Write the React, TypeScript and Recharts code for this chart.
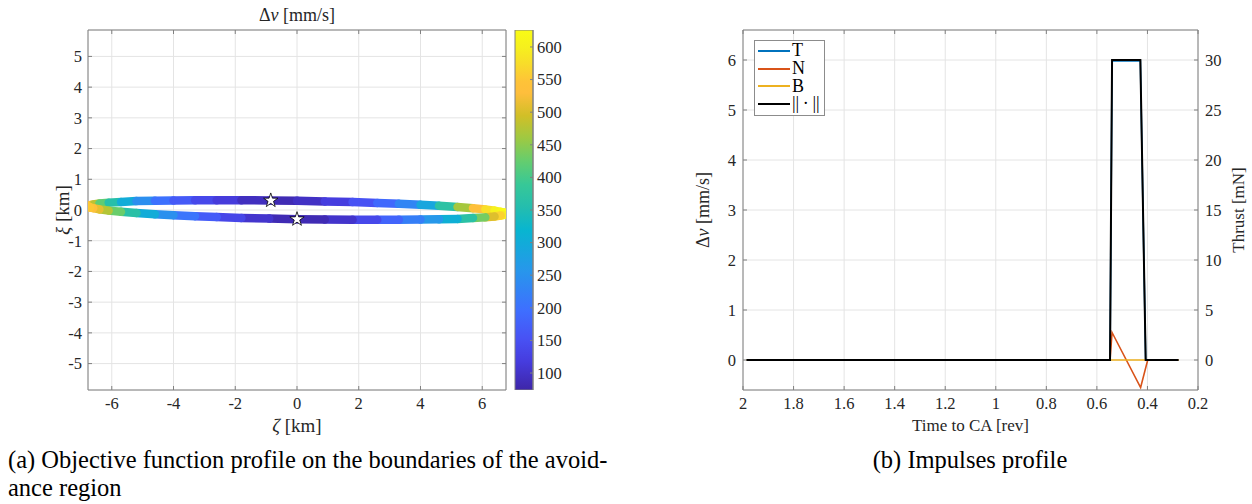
import React from "react";
import {
  Bar,
  BarChart,
  CartesianGrid,
  Legend,
  Line,
  LineChart,
  Scatter,
  ScatterChart,
  XAxis,
  YAxis,
  ZAxis,
} from "recharts";

const FONT = "'Liberation Serif', 'Times New Roman', serif";
const INK = "#262626";
const BOX = "#808080";
const GRID = "#e4e4e4";

// ---- (a) avoidance region boundary ----
const zetaTicks = [-6, -4, -2, 0, 2, 4, 6];
const xiTicks = [-5, -4, -3, -2, -1, 0, 1, 2, 3, 4, 5];

const upperZeta = [-6.75, -6.7, -6.6, -6.4, -6.1, -5.7, -5.2, -4.6, -4.0, -3.3, -2.6, -1.8, -0.9, 0, 0.9, 1.8, 2.6, 3.3, 4.0, 4.6, 5.2, 5.7, 6.1, 6.4, 6.6, 6.7, 6.75];
const upperXi = [0.12, 0.16, 0.18, 0.21, 0.24, 0.26, 0.29, 0.3, 0.31, 0.32, 0.32, 0.32, 0.31, 0.3, 0.28, 0.26, 0.23, 0.2, 0.17, 0.14, 0.1, 0.06, 0.02, -0.02, -0.06, -0.08, -0.12];
const upperDv = [560, 545, 510, 450, 390, 330, 270, 220, 180, 150, 125, 105, 80, 88, 105, 135, 170, 205, 255, 320, 420, 510, 560, 595, 612, 620, 626];

const lowerZeta = [6.75, 6.7, 6.6, 6.4, 6.1, 5.7, 5.2, 4.6, 4.0, 3.3, 2.6, 1.8, 0.9, 0, -0.9, -1.8, -2.6, -3.3, -4.0, -4.6, -5.2, -5.7, -6.1, -6.4, -6.6, -6.7, -6.75];
const lowerXi = [-0.12, -0.16, -0.18, -0.21, -0.24, -0.26, -0.29, -0.3, -0.31, -0.32, -0.32, -0.32, -0.31, -0.3, -0.28, -0.26, -0.23, -0.2, -0.17, -0.14, -0.1, -0.06, -0.02, 0.02, 0.06, 0.08, 0.12];
const lowerDv = [626, 610, 585, 540, 470, 400, 335, 280, 240, 200, 160, 115, 90, 78, 90, 118, 150, 185, 225, 270, 330, 400, 455, 495, 525, 545, 560];

const starZeta = [-0.85, 0];
const starXi = [0.31, -0.3];

const dvMin = 74;
const dvMax = 626;
const dvTicks = [100, 150, 200, 250, 300, 350, 400, 450, 500, 550, 600];

// ---- (b) impulses ----
const timeTicks = [2, 1.8, 1.6, 1.4, 1.2, 1, 0.8, 0.6, 0.4, 0.2];
const dvAxisTicks = [0, 1, 2, 3, 4, 5, 6];
const thrustTicks = [0, 5, 10, 15, 20, 25, 30];

const pulseTime = [1.987, 0.548, 0.54, 0.428, 0.407, 0.277];
const tDv = [0, 0, 5.98, 5.98, 0, 0];
const normDv = [0, 0, 6, 6, 0, 0];
const nTime = [1.987, 0.548, 0.54, 0.427, 0.399, 0.277];
const nDv = [0, 0, 0.55, -0.55, 0, 0];
const bTime = [1.987, 0.277];
const bDv = [0, 0];

const legendOrder = ["T", "N", "B", "||\u2009\u00b7\u2009||"];

// parula (MATLAB) colour stops
const PARULA: [number, number[]][] = [
  [0, [62, 38, 168]],
  [0.079, [70, 60, 222]],
  [0.143, [72, 82, 244]],
  [0.222, [62, 111, 255]],
  [0.333, [39, 151, 235]],
  [0.444, [8, 181, 208]],
  [0.508, [36, 189, 174]],
  [0.571, [55, 200, 151]],
  [0.635, [100, 205, 111]],
  [0.698, [157, 201, 67]],
  [0.762, [209, 191, 39]],
  [0.825, [254, 190, 60]],
  [0.857, [254, 195, 56]],
  [0.905, [248, 220, 42]],
  [0.952, [246, 240, 30]],
  [1, [249, 251, 21]],
];

function rgb(c: number[]) {
  return `rgb(${Math.round(c[0])},${Math.round(c[1])},${Math.round(c[2])})`;
}

function parula(v: number) {
  const t = Math.min(1, Math.max(0, (v - dvMin) / (dvMax - dvMin)));
  for (let i = 1; i < PARULA.length; i++) {
    const [t1, c1] = PARULA[i];
    if (t <= t1) {
      const [t0, c0] = PARULA[i - 1];
      const f = (t - t0) / (t1 - t0);
      return rgb(c0.map((c, k) => c + (c1[k] - c) * f));
    }
  }
  return rgb(PARULA[PARULA.length - 1][1]);
}

function bandSegments(zeta: number[], xi: number[], dv: number[]) {
  const out: { pts: { z: number; x: number }[]; color: string }[] = [];
  for (let i = 0; i < zeta.length - 1; i++) {
    out.push({
      pts: [
        { z: zeta[i], x: xi[i] },
        { z: zeta[i + 1], x: xi[i + 1] },
      ],
      color: parula((dv[i] + dv[i + 1]) / 2),
    });
  }
  return out;
}

const segments = [...bandSegments(upperZeta, upperXi, upperDv), ...bandSegments(lowerZeta, lowerXi, lowerDv)];
const stars = starZeta.map((z, i) => ({ z, x: starXi[i] }));

const toSeries = (ts: number[], vs: number[]) => ts.map((t, i) => ({ t, v: vs[i] }));
const tSeries = toSeries(pulseTime, tDv);
const nSeries = toSeries(nTime, nDv);
const bSeries = toSeries(bTime, bDv);
const normSeries = toSeries(pulseTime, normDv);

const colorbarData = [{ name: "cb", span: [dvMin, dvMax] }];

const blank = () => "";
const noShape = () => <g />;

// tick label in the serif face, MATLAB style
function SerifTick(props: any) {
  const { x, y, textAnchor, verticalAnchor, payload } = props;
  const dy = verticalAnchor === "start" ? "0.71em" : verticalAnchor === "end" ? "0" : "0.355em";
  return (
    <text x={x} y={y} dy={dy} textAnchor={textAnchor} fontFamily={FONT} fontSize={16.5} fill={INK}>
      {String(payload.value)}
    </text>
  );
}

function axisTitle(content: React.ReactNode, dx: number, dy: number, rotate = false, size = 17) {
  return (props: any) => {
    const vb = props.viewBox || { x: 0, y: 0, width: 0, height: 0 };
    const cx = vb.x + vb.width / 2 + dx;
    const cy = vb.y + vb.height / 2 + dy;
    return (
      <text
        x={cx}
        y={cy}
        textAnchor="middle"
        dominantBaseline="central"
        fontFamily={FONT}
        fontSize={size}
        fill={INK}
        transform={rotate ? `rotate(-90 ${cx} ${cy})` : undefined}
      >
        {content}
      </text>
    );
  };
}

const dvTitle = (
  <>
    <tspan>Δ</tspan>
    <tspan fontStyle="italic">v</tspan>
    <tspan> [mm/s]</tspan>
  </>
);

function LegendBox(props: any) {
  const payload = [...(props.payload || [])].sort(
    (a: any, b: any) => legendOrder.indexOf(a.value) - legendOrder.indexOf(b.value)
  );
  return (
    <div
      style={{
        border: "1px solid #8c8c8c",
        background: "#fff",
        padding: "1px 4px 2px 3px",
        fontFamily: FONT,
        fontSize: 18,
        color: "#000",
      }}
    >
      {payload.map((p: any) => (
        <div key={p.value} style={{ display: "flex", alignItems: "center", height: 17.7 }}>
          <svg width={32} height={4}>
            <line x1={0} x2={32} y1={2} y2={2} stroke={p.color} strokeWidth={2} />
          </svg>
          <span style={{ marginLeft: 2, lineHeight: "17px" }}>{p.value}</span>
        </div>
      ))}
    </div>
  );
}

function RegionPlot() {
  return (
    <ScatterChart width={520} height={440} margin={{ top: 0, right: 0, bottom: 20, left: 0 }} style={{ fontFamily: FONT }}>
      <CartesianGrid stroke={GRID} />
      <XAxis
        type="number"
        dataKey="z"
        domain={[-6.77, 6.77]}
        ticks={zetaTicks}
        allowDataOverflow
        height={30}
        tick={<SerifTick />}
        tickSize={-4}
        tickMargin={11}
        stroke={BOX}
        label={axisTitle(
          <>
            <tspan fontStyle="italic">ζ</tspan>
            <tspan> [km]</tspan>
          </>,
          0,
          20,
          false,
          19
        )}
      />
      <XAxis
        xAxisId="top"
        orientation="top"
        type="number"
        dataKey="z"
        domain={[-6.77, 6.77]}
        ticks={zetaTicks}
        allowDataOverflow
        height={30}
        tickFormatter={blank}
        tickSize={-4}
        stroke={BOX}
        label={axisTitle(dvTitle, 0, 0, false, 18)}
      />
      <YAxis
        type="number"
        dataKey="x"
        domain={[-5.86, 5.86]}
        ticks={xiTicks}
        allowDataOverflow
        width={88}
        tick={<SerifTick />}
        tickSize={-4}
        tickMargin={10}
        stroke={BOX}
        label={axisTitle(
          <>
            <tspan fontStyle="italic">ξ</tspan>
            <tspan> [km]</tspan>
          </>,
          18,
          0,
          true,
          19
        )}
      />
      <YAxis
        yAxisId="r"
        orientation="right"
        type="number"
        dataKey="x"
        domain={[-5.86, 5.86]}
        ticks={xiTicks}
        allowDataOverflow
        width={14}
        tickFormatter={blank}
        tickSize={-4}
        stroke={BOX}
      />
      <ZAxis range={[110, 110]} />
      {segments.map((s, i) => (
        <Scatter
          key={i}
          data={s.pts}
          line={{ stroke: s.color, strokeWidth: 8.5, strokeLinecap: "round" }}
          shape={noShape}
          legendType="none"
          isAnimationActive={false}
        />
      ))}
      <Scatter data={stars} shape="star" fill="#fff" stroke="#000" strokeWidth={0.8} isAnimationActive={false} />
    </ScatterChart>
  );
}

function ColorBar() {
  return (
    <BarChart
      width={120}
      height={440}
      data={colorbarData}
      margin={{ top: 30, right: 0, bottom: 50, left: 35 }}
      barCategoryGap={0}
      style={{ fontFamily: FONT }}
    >
      <defs>
        <linearGradient id="parulaBar" x1="0" y1="0" x2="0" y2="1">
          {[...PARULA].reverse().map(([t, c]) => (
            <stop key={t} offset={`${(1 - t) * 100}%`} stopColor={rgb(c)} />
          ))}
        </linearGradient>
      </defs>
      <XAxis dataKey="name" hide />
      <YAxis
        orientation="right"
        type="number"
        domain={[dvMin, dvMax]}
        ticks={dvTicks}
        allowDataOverflow
        width={67}
        tick={<SerifTick />}
        tickSize={-3}
        tickMargin={7}
        stroke={BOX}
      />
      <Bar dataKey="span" fill="url(#parulaBar)" stroke={BOX} strokeWidth={1} isAnimationActive={false} />
    </BarChart>
  );
}

function ImpulsePlot() {
  return (
    <LineChart width={612} height={440} margin={{ top: 0, right: 0, bottom: 20, left: 0 }} style={{ fontFamily: FONT }}>
      <CartesianGrid stroke={GRID} />
      <XAxis
        type="number"
        dataKey="t"
        domain={[0.2, 2]}
        reversed
        ticks={timeTicks}
        allowDataOverflow
        height={30}
        tick={<SerifTick />}
        tickSize={-4}
        tickMargin={11}
        stroke={BOX}
        label={axisTitle("Time to CA [rev]", 0, 20)}
      />
      <XAxis
        xAxisId="top"
        orientation="top"
        type="number"
        dataKey="t"
        domain={[0.2, 2]}
        reversed
        ticks={timeTicks}
        allowDataOverflow
        height={30}
        tickFormatter={blank}
        tickSize={-4}
        stroke={BOX}
      />
      <YAxis
        type="number"
        domain={[-0.6, 6.6]}
        ticks={dvAxisTicks}
        allowDataOverflow
        width={103}
        tick={<SerifTick />}
        tickSize={-4}
        tickMargin={11}
        stroke={BOX}
        label={axisTitle(dvTitle, 11, 0, true, 18)}
      />
      <YAxis
        yAxisId="right"
        orientation="right"
        type="number"
        domain={[-3, 33]}
        ticks={thrustTicks}
        allowDataOverflow
        width={54}
        tick={<SerifTick />}
        tickSize={-4}
        tickMargin={11}
        stroke={BOX}
        label={axisTitle("Thrust [mN]", 13, 0, true)}
      />
      <Legend
        layout="horizontal"
        verticalAlign="middle"
        align="center"
        content={<LegendBox />}
        wrapperStyle={{ left: 114, top: 40, width: "auto", height: "auto" }}
      />
      <Line data={tSeries} dataKey="v" name={legendOrder[0]} type="linear" stroke="#0072BD" strokeWidth={1.6} dot={false} isAnimationActive={false} />
      <Line data={nSeries} dataKey="v" name={legendOrder[1]} type="linear" stroke="#D95319" strokeWidth={1.6} dot={false} isAnimationActive={false} />
      <Line data={bSeries} dataKey="v" name={legendOrder[2]} type="linear" stroke="#EDB120" strokeWidth={1.6} dot={false} isAnimationActive={false} />
      <Line data={normSeries} dataKey="v" name={legendOrder[3]} type="linear" stroke="#000" strokeWidth={2} dot={false} isAnimationActive={false} />
    </LineChart>
  );
}

export default function App() {
  return (
    <div
      style={{
        position: "absolute",
        left: 0,
        top: 0,
        width: 1252,
        height: 504,
        background: "#fff",
        overflow: "hidden",
        fontFamily: FONT,
      }}
    >
      <div style={{ position: "absolute", left: 0, top: 0 }}>
        <RegionPlot />
      </div>
      <div style={{ position: "absolute", left: 480, top: 0 }}>
        <ColorBar />
      </div>
      <div style={{ position: "absolute", left: 640, top: 0 }}>
        <ImpulsePlot />
      </div>
      <div style={{ position: "absolute", left: 8, top: 446, fontSize: 24.5, lineHeight: "28px", color: "#000", whiteSpace: "nowrap" }}>
        (a) Objective function profile on the boundaries of the avoid-
        <br />
        ance region
      </div>
      <div style={{ position: "absolute", left: 760, width: 420, top: 446, fontSize: 24.5, lineHeight: "28px", color: "#000", textAlign: "center" }}>
        (b) Impulses profile
      </div>
    </div>
  );
}
